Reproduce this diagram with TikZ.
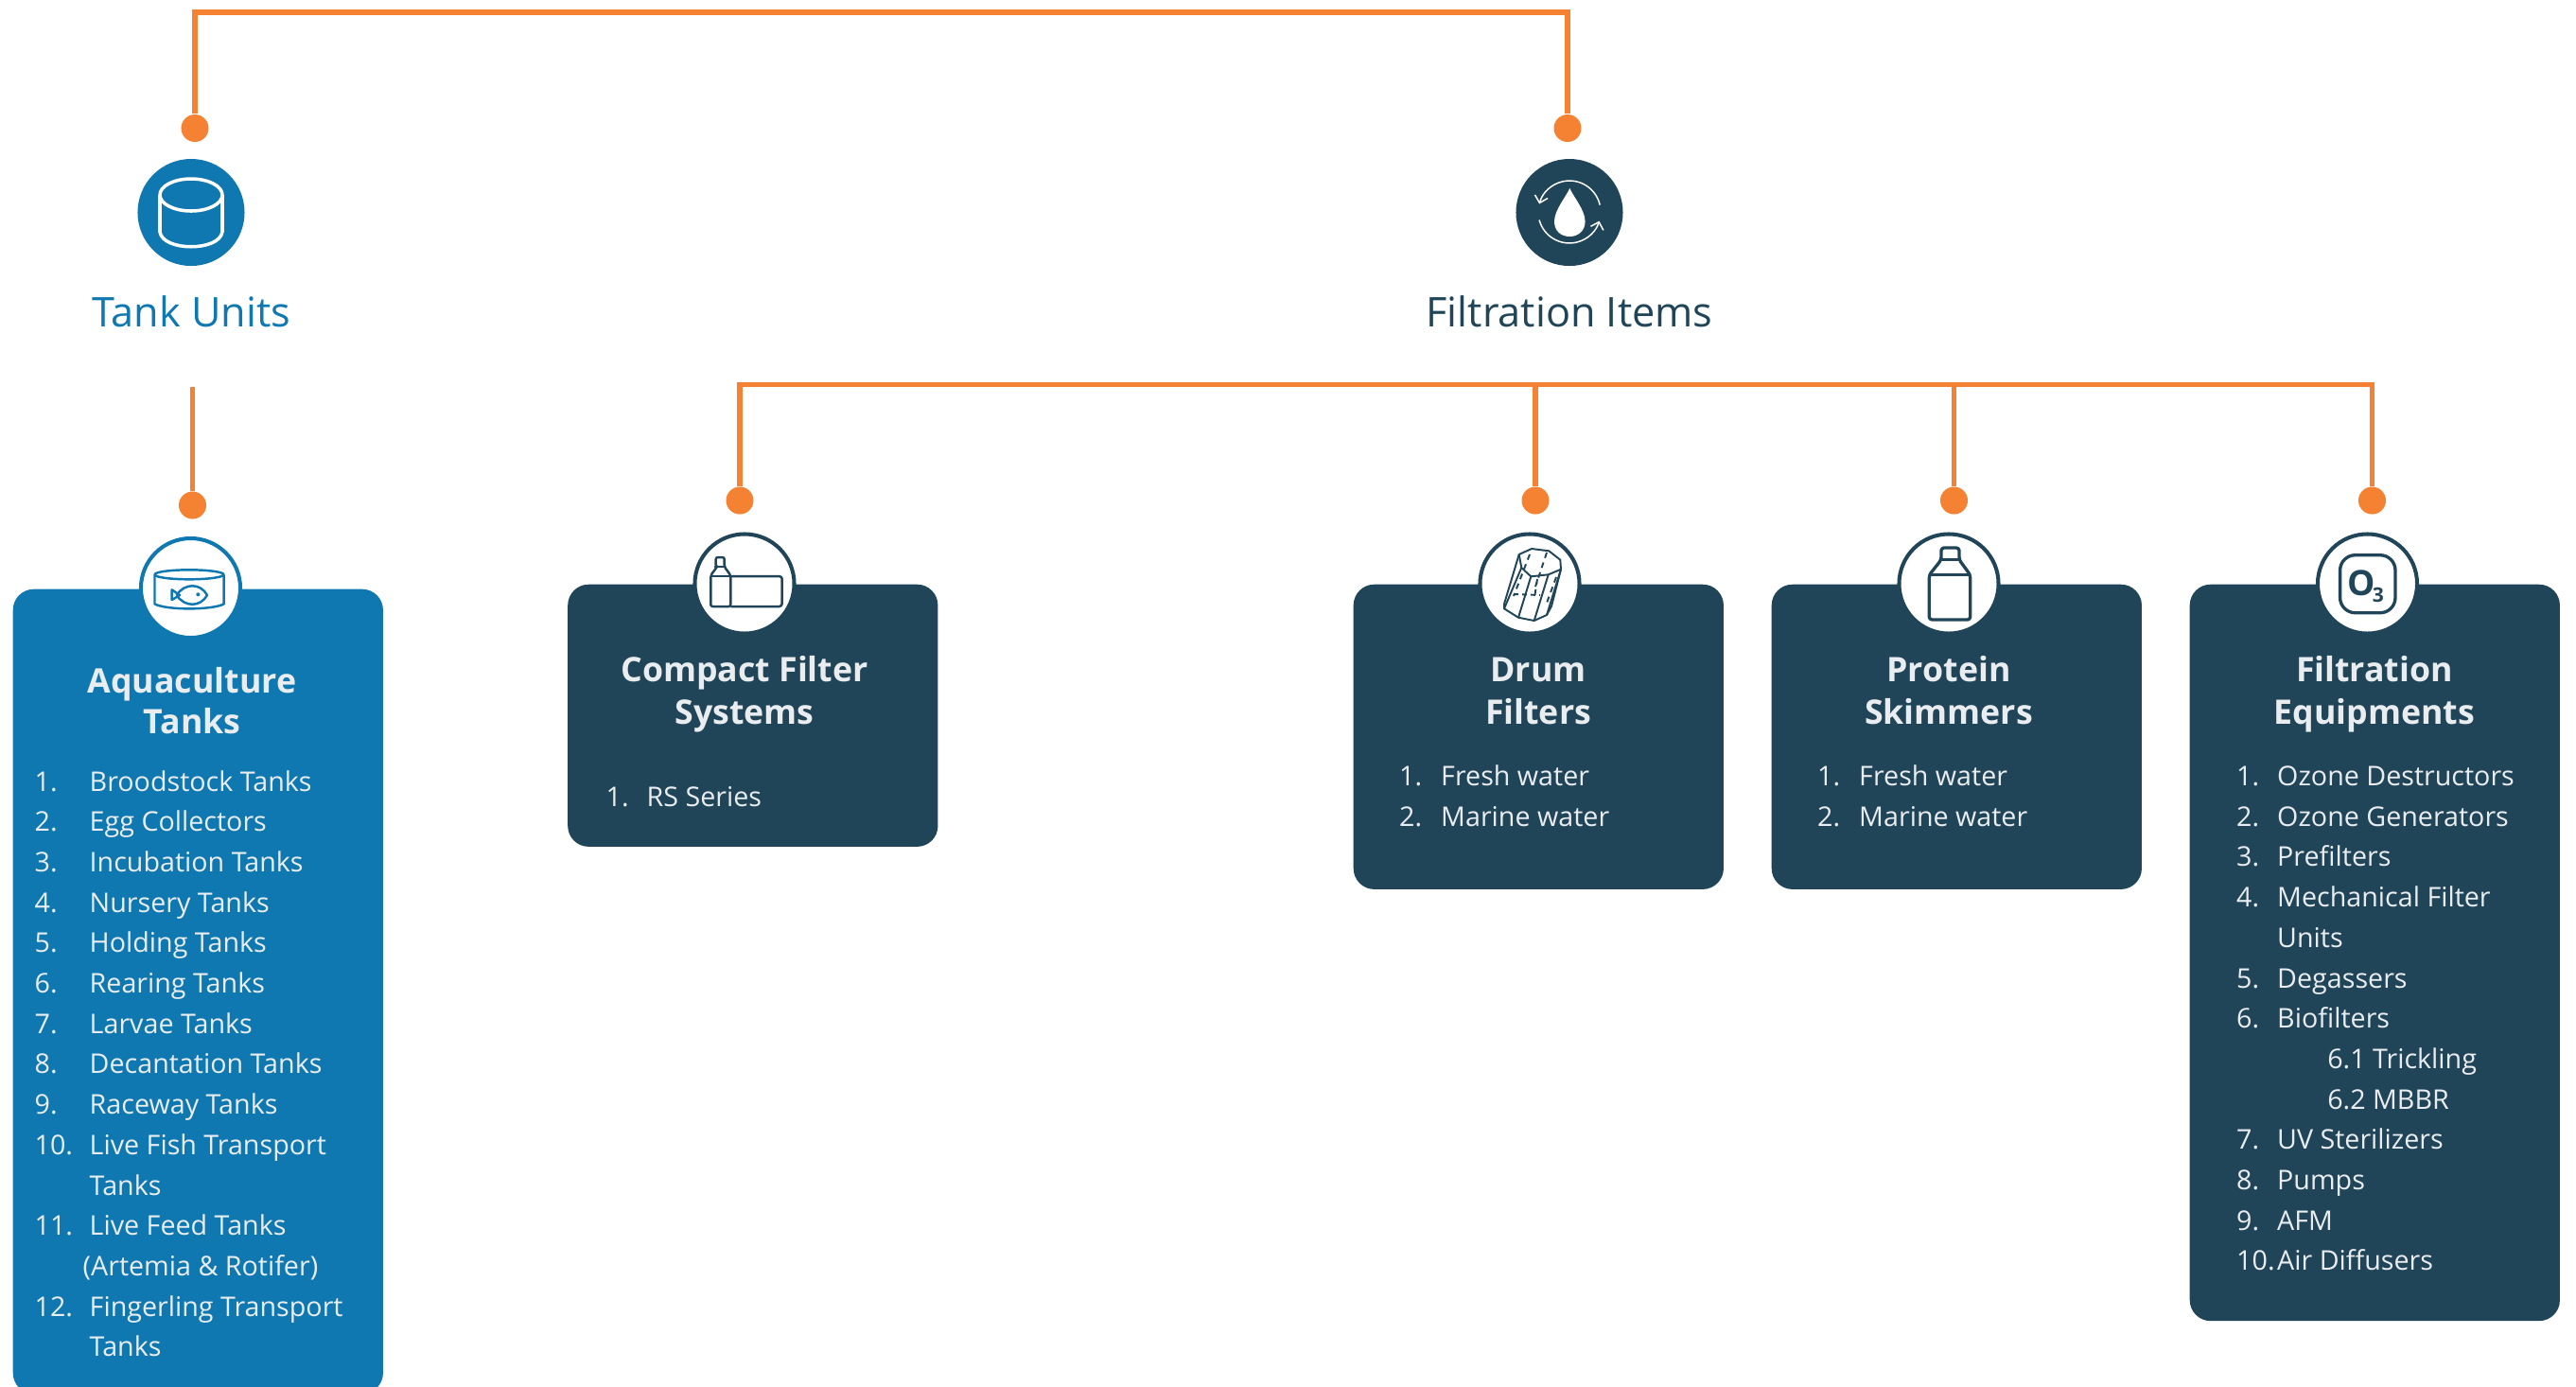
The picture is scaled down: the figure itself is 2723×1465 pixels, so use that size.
\documentclass[tikz,border=0pt]{standalone}
\usepackage{fontspec}
\setmainfont{Open Sans}
\usepackage{xcolor}
\usetikzlibrary{arrows.meta,positioning}
\definecolor{tankblue}{HTML}{1078B0}
\definecolor{filterdark}{HTML}{214558}
\definecolor{linkorange}{HTML}{F58233}
\definecolor{paneltext}{HTML}{EAEDEF}
\tikzset{
	linkline/.style={draw=linkorange,line width=1.45pt},
	linkdot/.style={circle,fill=linkorange,inner sep=0pt,minimum size=0.29cm},
	headicon/.style={circle,inner sep=0pt,minimum size=1.13cm},
	headlabel/.style={anchor=base,inner sep=0pt,font=\fontsize{12.3}{15}\selectfont},
	panel/.style={rectangle,rounded corners=0.22cm,anchor=north west,inner sep=0pt,minimum width=3.91cm},
	iconring/.style={circle,fill=white,line width=1.15pt,inner sep=0pt,minimum size=1.05cm},
	paneltitle/.style={anchor=base,inner sep=0pt,text=paneltext,font=\fontsize{10.15}{13}\selectfont\bfseries},
	rowtext/.style={anchor=base west,inner sep=0pt,text=paneltext,font=\fontsize{8.15}{11}\selectfont},
	glyphline/.style={line width=0.7pt,line join=round}
}
\newcommand{\rowline}[3]{\makebox[#1][l]{#2}#3}
\begin{document}
\begin{tikzpicture}[x=0.01cm,y=-0.01cm]
	\path[use as bounding box,clip] (0,0) rectangle (2723,1465);
	% panels
	\node[panel,fill=tankblue,minimum height=8.5cm] (aqua) at (13,622) {};
	\node[panel,fill=filterdark,minimum height=2.77cm] (compact) at (599.5,617) {};
	\node[panel,fill=filterdark,minimum height=3.22cm] (drum) at (1430,617) {};
	\node[panel,fill=filterdark,minimum height=3.22cm] (skimmer) at (1872,617) {};
	\node[panel,fill=filterdark,minimum height=7.78cm] (equip) at (2314,617) {};
	% rings on the panels
	\node[iconring,draw=tankblue] (aquaring) at (201.5,621.5) {};
	\node[iconring,draw=filterdark] (compactring) at (787,617) {};
	\node[iconring,draw=filterdark] (drumring) at (1617,617) {};
	\node[iconring,draw=filterdark] (skimmerring) at (2060,617) {};
	\node[iconring,draw=filterdark] (equipring) at (2502.5,617) {};
	% heads
	\node[headicon,fill=tankblue] (tankhead) at (202,224.5) {};
	\node[headicon,fill=filterdark] (filterhead) at (1659,224.5) {};
	\node[headlabel,text=tankblue] (tanklabel) at (202,345.5) {Tank Units};
	\node[headlabel,text=filterdark] (filterlabel) at (1659,345.5) {Filtration Items};
	% dots
	\node[linkdot] (dottank) at (206,135.5) {};
	\node[linkdot] (dotfilter) at (1657,135.5) {};
	\node[linkdot] (dotaqua) at (203.5,534) {};
	\node[linkdot] (dotcompact) at (782,529) {};
	\node[linkdot] (dotdrum) at (1623,529) {};
	\node[linkdot] (dotskimmer) at (2065.5,529) {};
	\node[linkdot] (dotequip) at (2507.5,529) {};
	% connectors
	\coordinate (topleft) at (206,13);
	\coordinate (topright) at (1657,13);
	\coordinate (tankfoot) at (203.5,409);
	\coordinate (barleft) at (782,406.5);
	\coordinate (barright) at (2507.5,406.5);
	\coordinate (bardrum) at (1623,406.5);
	\coordinate (barskimmer) at (2065.5,406.5);
	\draw[linkline] (dottank) -- (topleft) -- (topright) -- (dotfilter);
	\draw[linkline] (tankfoot) -- (dotaqua);
	\draw[linkline] (dotcompact) -- (barleft) -- (barright) -- (dotequip);
	\draw[linkline] (bardrum) -- (dotdrum);
	\draw[linkline] (barskimmer) -- (dotskimmer);
	% titles
	\node[paneltitle] (aquatitle1) at (203,732) {Aquaculture};
	\node[paneltitle] (aquatitle2) at (203,775) {Tanks};
	\node[paneltitle] (compacttitle1) at (787,720.5) {Compact Filter};
	\node[paneltitle] (compacttitle2) at (787,765.5) {Systems};
	\node[paneltitle] (drumtitle1) at (1626,720.5) {Drum};
	\node[paneltitle] (drumtitle2) at (1626,765.5) {Filters};
	\node[paneltitle] (skimmertitle1) at (2060,720.5) {Protein};
	\node[paneltitle] (skimmertitle2) at (2060,765.5) {Skimmers};
	\node[paneltitle] (equiptitle1) at (2510,720.5) {Filtration};
	\node[paneltitle] (equiptitle2) at (2510,765.5) {Equipments};
	% lists
	\foreach \num/\entry [count=\i] in {1./Broodstock Tanks,2./Egg Collectors,3./Incubation Tanks,4./Nursery Tanks,5./Holding Tanks,6./Rearing Tanks,7./Larvae Tanks,8./Decantation Tanks,9./Raceway Tanks,10./Live Fish Transport,/Tanks,11./Live Feed Tanks,/\hspace*{-0.07cm}(Artemia \& Rotifer),12./Fingerling Transport,/Tanks}
		\node[rowtext] (aquarow\i) at (36,{836+42.7*(\i-1)}) {\rowline{0.58cm}{\num}{\entry}};
	\node[rowtext] (compactrow1) at (640,852) {\rowline{0.43cm}{1.}{RS Series}};
	\foreach \num/\entry [count=\i] in {1./Fresh water,2./Marine water}
		\node[rowtext] (drumrow\i) at (1478.5,{830.5+42.7*(\i-1)}) {\rowline{0.44cm}{\num}{\entry}};
	\foreach \num/\entry [count=\i] in {1./Fresh water,2./Marine water}
		\node[rowtext] (skimmerrow\i) at (1920.5,{830.5+42.7*(\i-1)}) {\rowline{0.44cm}{\num}{\entry}};
	\foreach \num/\entry [count=\i] in {1./Ozone Destructors,2./Ozone Generators,3./Prefilters,4./Mechanical Filter,/Units,5./Degassers,6./Biofilters,/\hspace*{0.53cm}6.1 Trickling,/\hspace*{0.53cm}6.2 MBBR,7./UV Sterilizers,8./Pumps,9./AFM,10./Air Diffusers}
		\node[rowtext] (equiprow\i) at (2363.5,{830.5+42.7*(\i-1)}) {\rowline{0.43cm}{\num}{\entry}};
	% tank head glyph
	\draw[glyphline,white,line width=1pt] (202,206) ellipse [x radius=33,y radius=17];
	\draw[glyphline,white,line width=1pt] (169,206) -- (169,245) .. controls (172,266) and (232,266) .. (235,245) -- (235,206);
	% filter head glyph
	\draw[white,line width=0.42pt,-{Straight Barb[length=0.07cm,width=0.14cm]}] (1691.2,216.6) arc [start angle=-13,end angle=-165,radius=33];
	\draw[white,line width=0.42pt,-{Straight Barb[length=0.07cm,width=0.14cm]}] (1627.1,232.5) arc [start angle=165,end angle=17,radius=33];
	\fill[white] (1659.3,199) .. controls (1656,207) and (1643,222) .. (1643,234) .. controls (1643,244) and (1650,250) .. (1659.3,250) .. controls (1668,250) and (1675.6,244) .. (1675.6,234) .. controls (1675.6,222) and (1662.6,207) .. (1659.3,199) -- cycle;
	% can and fish
	\begin{scope}[tankblue,glyphline]
		\draw (200,607.3) ellipse [x radius=36.5,y radius=5];
		\draw (163.5,607.3) -- (163.5,638.3) .. controls (175,645) and (225,645) .. (236.7,638.3) -- (236.7,607.3);
		\draw (186.7,629) .. controls (195,616) and (212,616) .. (219,629) .. controls (212,642) and (195,642) .. (186.7,629);
		\draw (190,629) -- (181.7,623.3) -- (181.7,634) -- cycle;
		\fill (209.3,628.3) circle [radius=2];
	\end{scope}
	% bottle and box
	\begin{scope}[filterdark,glyphline]
		\draw[rounded corners=0.02cm] (751.3,641) -- (751.3,608) -- (758,599) -- (756.7,599) -- (756.7,589) -- (765.7,589) -- (765.7,599) -- (772.3,608) -- (772.3,641) -- cycle;
		\draw[rounded corners=0.03cm] (772.3,609) -- (826.7,609) -- (826.7,641) -- (772.3,641);
		\draw (751.3,609) -- (772.3,609);
		\draw (756.7,599) -- (765.7,599);
	\end{scope}
	% drum
	\begin{scope}[filterdark,glyphline,line width=0.55pt]
		\draw (1605.7,586) -- (1619,580) -- (1637.3,582.3) -- (1649.3,591.7) -- (1650,601.7) -- (1636.7,607.3) -- (1618.3,609.3) -- (1608.3,600) -- cycle;
		\draw (1605.7,586) -- (1590,638.3) -- (1590,643.3) -- (1605,652.7) -- (1621.7,656) -- (1635,650) -- (1640,640.7) -- (1650,601.7);
		\draw (1608.3,600) -- (1590,643.3);
		\draw (1618.3,609.3) -- (1605,652.7);
		\draw (1636.7,607.3) -- (1621.7,656);
		\draw (1650,601.7) -- (1635,650);
		\draw[dash pattern=on 0.06cm off 0.05cm] (1617,586) -- (1600,630);
		\draw[dash pattern=on 0.06cm off 0.05cm] (1635,584) -- (1623,620);
		\draw[dash pattern=on 0.06cm off 0.05cm] (1625,612) -- (1622,632);
		\draw[dash pattern=on 0.06cm off 0.05cm] (1645,610) -- (1634,640);
		\draw[dash pattern=on 0.05cm off 0.04cm] (1600,628) -- (1628,629);
	\end{scope}
	% skimmer bottle
	\begin{scope}[filterdark,glyphline,line width=0.95pt]
		\draw[rounded corners=0.03cm] (2039.3,655) -- (2039.3,607.7) -- (2052,591.7) -- (2052,579) -- (2071,579) -- (2071,591.7) -- (2082.7,607.7) -- (2082.7,655) -- cycle;
		\draw (2039.3,607.7) -- (2082.7,607.7);
		\draw (2052,591.7) -- (2071,591.7);
	\end{scope}
	% ozone
	\draw[filterdark,glyphline,line width=0.95pt,rounded corners=0.16cm] (2473.6,586.7) rectangle (2532,647.7);
	\node[inner sep=0pt,text=filterdark,font=\fontsize{10.5}{12}\selectfont\bfseries] (ozoneO) at (2496,616) {O};
	\node[inner sep=0pt,text=filterdark,font=\fontsize{6}{7}\selectfont\bfseries] (ozone3) at (2514,629) {3};
\end{tikzpicture}
\end{document}
